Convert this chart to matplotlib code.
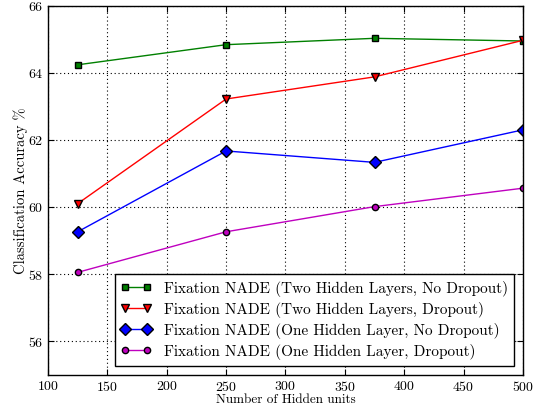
import matplotlib
matplotlib.use("Agg")
import matplotlib.pyplot as plt

plt.rcParams['font.family'] = 'cmr10'
plt.rcParams['mathtext.fontset'] = 'cm'
plt.rcParams['axes.formatter.use_mathtext'] = True

hidden_units = [125, 250, 375, 500]
two_layers_no_dropout = [64.25, 64.85, 65.04, 64.96]
two_layers_dropout = [60.11, 63.23, 63.89, 64.98]
one_layer_no_dropout = [59.27, 61.68, 61.34, 62.31]
one_layer_dropout = [58.06, 59.27, 60.02, 60.57]

labels = ['Fixation NADE (Two Hidden Layers, No Dropout)',
          'Fixation NADE (Two Hidden Layers, Dropout)',
          'Fixation NADE (One Hidden Layer, No Dropout)',
          'Fixation NADE (One Hidden Layer, Dropout)']

fig = plt.figure(figsize=(5.36, 4.08), dpi=100)
ax = fig.add_axes([0.0896, 0.081, 0.886, 0.904])

ax.plot(hidden_units, two_layers_no_dropout, color='green', marker='s',
        markersize=5, markeredgecolor='black', lw=1, label=labels[0])
ax.plot(hidden_units, two_layers_dropout, color='red', marker='v',
        markersize=5.5, markeredgecolor='black', lw=1, label=labels[1])
ax.plot(hidden_units, one_layer_no_dropout, color='blue', marker='D',
        markersize=6, markeredgecolor='black', lw=1, label=labels[2])
ax.plot(hidden_units, one_layer_dropout, color='m', marker='o',
        markersize=4.5, markeredgecolor='black', lw=1, label=labels[3])

ax.set_xlim(100, 500)
ax.set_ylim(55, 66)
ax.set_xticks(range(100, 501, 50))
ax.set_yticks(range(56, 67, 2))
ax.tick_params(labelsize=10, direction='in', top=True, right=True, length=4)
ax.grid(True, color='black', linestyle=(0, (1, 2.5)), linewidth=0.8)
for s in ax.spines.values():
    s.set_linewidth(1)

ax.set_xlabel('Number of Hidden units', fontsize=9.5, labelpad=0)
ax.set_ylabel(r'Classification Accuracy %', fontsize=10.5, labelpad=0)

leg = ax.legend(loc='lower right', fontsize=11, fancybox=False,
                framealpha=1, edgecolor='black', numpoints=2,
                handlelength=2.0, handletextpad=0.8,
                borderaxespad=0.6, labelspacing=0.33)
leg.get_frame().set_linewidth(1)

fig.savefig('out.png', dpi=100)
